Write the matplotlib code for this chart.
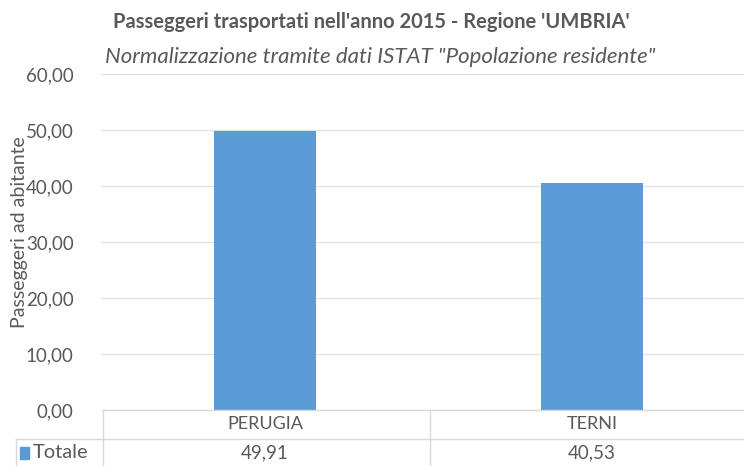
import matplotlib
matplotlib.use('Agg')
from matplotlib import pyplot as plt
from matplotlib.lines import Line2D
from matplotlib.patches import Rectangle
from matplotlib.ticker import FuncFormatter

categories = ['PERUGIA', 'TERNI']
values = [49.91, 40.53]
series_name = 'Totale'

plt.rcParams['font.family'] = ['Lato', 'DejaVu Sans']
grey = '#595959'
blue = '#5B9BD5'
line_c = '#D9D9D9'

W, H = 744, 466
fig = plt.figure(figsize=(W / 100, H / 100), dpi=100)
# axes in pixel coords: left 101.5, right 755.5, top 74, bottom 410
ax = fig.add_axes([101.5 / W, 1 - 410 / H, 654 / W, 336 / H])

x = list(range(len(categories)))
ax.bar(x, values, width=0.31, color=blue, zorder=3)
ax.set_xlim(-0.5, len(categories) - 0.5)
ax.set_ylim(0, 60)
ax.set_yticks(range(0, 61, 10))
ax.yaxis.set_major_formatter(FuncFormatter(lambda v, p: f'{v:.2f}'.replace('.', ',')))
ax.tick_params(axis='y', length=0, labelsize=13.5, colors=grey, pad=20)
ax.set_xticks([])
ax.grid(axis='y', color='#E0E0E0', lw=0.9, zorder=0)
for s in ax.spines.values():
    s.set_visible(False)

fig.text(20 / W, 1 - 232 / H, 'Passeggeri ad abitante', rotation=90, ha='center', va='center',
         fontsize=14, color=grey)

fig.text(371 / W, 1 - 22 / H, "Passeggeri trasportati nell'anno 2015 - Regione 'UMBRIA'",
         ha='center', va='center', fontsize=14.5, fontweight='bold', color=grey)
fig.text(380 / W, 1 - 57 / H, 'Normalizzazione tramite dati ISTAT "Popolazione residente"',
         ha='center', va='center', fontsize=16, style='italic', color=grey)

# data table below the axis
def hline(x0, x1, yp):
    fig.add_artist(Line2D([x0 / W, x1 / W], [1 - yp / H, 1 - yp / H], color=line_c, lw=1))

def vline(xp, y0, y1):
    fig.add_artist(Line2D([xp / W, xp / W], [1 - y0 / H, 1 - y1 / H], color=line_c, lw=1))

hline(103, 744, 410)
hline(16, 744, 439)
vline(103, 410, 466)
vline(16, 439, 466)
vline(430, 410, 466)

for i, (c, v) in enumerate(zip(categories, values)):
    xc = ax.transData.transform((i, 0))[0] / W
    fig.text(xc, 1 - 424 / H, c, ha='center', va='center', fontsize=13, color=grey)
    fig.text(xc, 1 - 453 / H, f'{v:.2f}'.replace('.', ','), ha='center', va='center',
             fontsize=13.5, color=grey)

fig.add_artist(Rectangle((20 / W, 1 - 459 / H), 9 / W, 12 / H, color=blue))
fig.text(33 / W, 1 - 453 / H, series_name, ha='left', va='center', fontsize=14.5, color=grey)

fig.savefig('out.png', dpi=100)
